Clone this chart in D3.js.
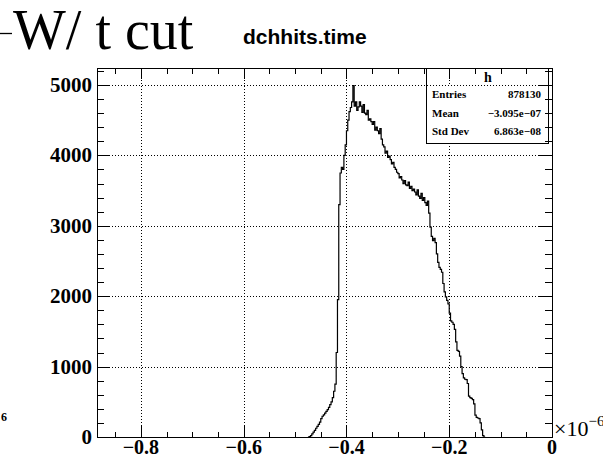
<!DOCTYPE html>
<html><head><meta charset="utf-8">
<script src="https://cdn.jsdelivr.net/npm/d3@7"></script>
<style>body{margin:0;background:#fff}svg{display:block}</style>
</head><body><svg id="c" width="603" height="458"></svg>
<script>
// ---- data ----
const xTicksMajor = [-0.8, -0.6, -0.4, -0.2, 0];
const xTickLabels = ["\u22120.8", "\u22120.6", "\u22120.4", "\u22120.2", "0"];
const yTicksMajor = [0, 1000, 2000, 3000, 4000, 5000];
const yTickLabels = ["0", "1000", "2000", "3000", "4000", "5000"];
const xDomain = [-0.8855, 0];   // units of 1e-6
const yDomain = [0, 5241];
const binLow = -0.475;
const binWidth = 0.0025;
const counts = [
  0, 5, 20, 45, 70, 95, 124, 150, 180, 210,
  260, 295, 315, 340, 365, 390, 420, 460, 500, 560,
  650, 750, 1200, 1950, 3300, 3750, 3830, 3800, 4000, 4150,
  4350, 4500, 4620, 4680, 4760, 4990, 4700, 4760, 4640, 4690,
  4760, 4700, 4610, 4720, 4600, 4580, 4640, 4500, 4520, 4480,
  4440, 4480, 4360, 4400, 4350, 4310, 4380, 4230, 4150, 4120,
  4030, 4060, 3970, 3990, 3940, 3880, 3900, 3830, 3800, 3760,
  3740, 3680, 3700, 3650, 3600, 3640, 3580, 3570, 3620, 3530,
  3560, 3500, 3520, 3480, 3440, 3510, 3420, 3390, 3460, 3360,
  3400, 3330, 3290, 3350, 3180, 2980, 2850, 2790, 2820, 2760,
  2600, 2480, 2410, 2380, 2340, 2180, 2060, 1990, 1940, 1890,
  1760, 1650, 1630, 1600, 1530, 1350, 1230, 1215, 1150, 1000,
  900, 840, 820, 815, 760, 580, 560, 550, 530, 470,
  310, 280, 270, 260, 200, 100, 20, 0
];
const titleText = "W/ t cut";
const histName = "dchhits.time";
const statsTitle = "h";
const statsNames = ["Entries", "Mean", "Std Dev"];
const statsValues = ["878130", "\u22123.095e\u221207", "6.863e\u221208"];
const strayLabel = "6";

// ---- layout ----
const L = 97, R = 552, T = 68, B = 437;
const svg = d3.select("#c");
const x = d3.scaleLinear().domain(xDomain).range([L, R]);
const y = d3.scaleLinear().domain(yDomain).range([B, T]);
const serif = "'Liberation Serif','Times New Roman',serif";
const sans = "'Liberation Sans',Arial,sans-serif";

// grid
const g = svg.append("g").attr("stroke", "#000").attr("stroke-width", 1)
  .attr("stroke-dasharray", "1,2").attr("shape-rendering", "crispEdges");
xTicksMajor.filter(v => v > xDomain[0] && v < xDomain[1]).forEach(v => {
  const px = Math.round(x(v)) + 0.5;
  g.append("line").attr("x1", px).attr("x2", px).attr("y1", T).attr("y2", B);
});
yTicksMajor.filter(v => v > yDomain[0] && v < yDomain[1]).forEach(v => {
  const py = Math.round(y(v)) + 0.5;
  g.append("line").attr("x1", L).attr("x2", R).attr("y1", py).attr("y2", py);
});

// stats box fill (lower part opaque)
const boxL = 426, boxR = 548, boxB = 143, boxMid = 85;
svg.append("rect").attr("x", boxL + 0.5).attr("y", boxMid + 1).attr("width", boxR - boxL)
  .attr("height", boxB - boxMid - 1).attr("fill", "#fff");

// histogram
let d = `M${x(binLow)},${y(0)}`;
counts.forEach((c, i) => {
  const x0 = x(binLow + i * binWidth), x1 = x(binLow + (i + 1) * binWidth);
  d += `L${x0},${y(c)}L${x1},${y(c)}`;
});
d += `L${x(binLow + counts.length * binWidth)},${y(0)}`;
svg.append("path").attr("d", d).attr("fill", "none").attr("stroke", "#000").attr("stroke-width", 1.2);

// ticks
const tk = svg.append("g").attr("stroke", "#000").attr("stroke-width", 1).attr("shape-rendering", "crispEdges");
const xMinor = d3.range(-0.85, 0.0001, 0.05).map(v => Math.round(v * 100) / 100);
xMinor.forEach(v => {
  const major = xTicksMajor.some(m => Math.abs(m - v) < 1e-6);
  const len = major ? 11 : 5.5;
  const px = Math.round(x(v)) + 0.5;
  tk.append("line").attr("x1", px).attr("x2", px).attr("y1", B).attr("y2", B - len);
  tk.append("line").attr("x1", px).attr("x2", px).attr("y1", T).attr("y2", T + len);
});
const yMinor = d3.range(0, yDomain[1], 200);
yMinor.forEach(v => {
  const major = v % 1000 === 0;
  const len = major ? 13 : 7;
  const py = Math.round(y(v)) + 0.5;
  tk.append("line").attr("x1", L).attr("x2", L + len).attr("y1", py).attr("y2", py);
  tk.append("line").attr("x1", R).attr("x2", R - len).attr("y1", py).attr("y2", py);
});

// frame
svg.append("rect").attr("x", L + 0.5).attr("y", T + 0.5).attr("width", R - L).attr("height", B - T)
  .attr("fill", "none").attr("stroke", "#000").attr("stroke-width", 1).attr("shape-rendering", "crispEdges");

// stats box border
svg.append("rect").attr("x", boxL + 0.5).attr("y", T + 0.5).attr("width", boxR - boxL).attr("height", boxB - T)
  .attr("fill", "none").attr("stroke", "#000").attr("stroke-width", 1).attr("shape-rendering", "crispEdges");
svg.append("text").attr("x", (boxL + boxR) / 2 + 1).attr("y", 82).attr("text-anchor", "middle")
  .attr("font-family", serif).attr("font-weight", "bold").attr("font-size", 14).text(statsTitle);
statsNames.forEach((n, i) => {
  const by = 98 + i * 18.7;
  svg.append("text").attr("x", 432).attr("y", by).attr("font-family", serif).attr("font-weight", "bold")
    .attr("font-size", 11).text(n);
  svg.append("text").attr("x", 541).attr("y", by).attr("text-anchor", "end").attr("font-family", serif)
    .attr("font-weight", "bold").attr("font-size", 11).text(statsValues[i]);
});

// axis labels
xTicksMajor.forEach((v, i) => {
  svg.append("text").attr("x", x(v)).attr("y", 454).attr("text-anchor", "middle")
    .attr("font-family", serif).attr("font-weight", "bold").attr("font-size", 20).text(xTickLabels[i]);
});
yTicksMajor.forEach((v, i) => {
  svg.append("text").attr("x", 92).attr("y", y(v) + 7).attr("text-anchor", "end")
    .attr("font-family", serif).attr("font-weight", "bold").attr("font-size", 21).text(yTickLabels[i]);
});
// exponent
const ex = svg.append("text").attr("x", 554).attr("y", 436).attr("font-family", serif).attr("font-size", 22);
ex.append("tspan").text("\u00d710");
ex.append("tspan").attr("dy", -10).attr("font-size", 15).text("\u22126");

// titles
svg.append("line").attr("x1", 0).attr("x2", 12).attr("y1", 33.5).attr("y2", 33.5)
  .attr("stroke", "#000").attr("stroke-width", 1.3);
svg.append("text").attr("x", 13).attr("y", 49).attr("font-family", serif).attr("font-size", 56).text(titleText);
svg.append("text").attr("x", 243).attr("y", 44).attr("font-family", sans).attr("font-weight", "bold")
  .attr("font-size", 21).text(histName);
svg.append("text").attr("x", 1).attr("y", 421).attr("font-family", serif).attr("font-weight", "bold")
  .attr("font-size", 12).text(strayLabel);
</script></body></html>
